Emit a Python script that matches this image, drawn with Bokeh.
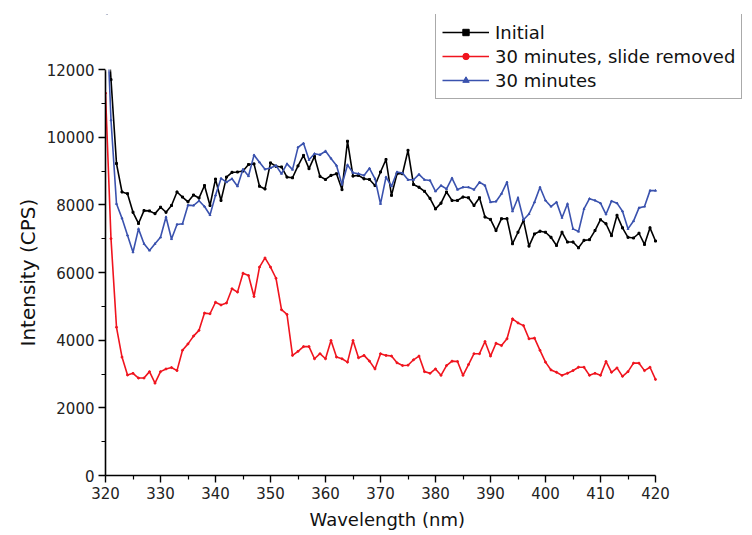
from bokeh.plotting import figure
from bokeh.models import ColumnDataSource, Legend, LegendItem, FixedTicker, BoxAnnotation, Title
from bokeh.embed import file_html
from bokeh.resources import INLINE

wavelength = [320, 321, 322, 323, 324, 325, 326, 327, 328, 329,
              330, 331, 332, 333, 334, 335, 336, 337, 338, 339,
              340, 341, 342, 343, 344, 345, 346, 347, 348, 349,
              350, 351, 352, 353, 354, 355, 356, 357, 358, 359,
              360, 361, 362, 363, 364, 365, 366, 367, 368, 369,
              370, 371, 372, 373, 374, 375, 376, 377, 378, 379,
              380, 381, 382, 383, 384, 385, 386, 387, 388, 389,
              390, 391, 392, 393, 394, 395, 396, 397, 398, 399,
              400, 401, 402, 403, 404, 405, 406, 407, 408, 409,
              410, 411, 412, 413, 414, 415, 416, 417, 418, 419, 420]

initial = [14500, 11700, 9220, 8380, 8330, 7780, 7450, 7830, 7820, 7740,
           7930, 7780, 7980, 8380, 8230, 8090, 8290, 8200, 8570, 7980,
           8760, 8130, 8820, 8960, 8970, 9000, 9190, 9210, 8550, 8470,
           9240, 9140, 9120, 8820, 8800, 9150, 9460, 9070, 9430, 8840,
           8750, 8870, 8920, 8450, 9880, 8850, 8870, 8770, 8750, 8570,
           8970, 9340, 8280, 8920, 8920, 9610, 8600, 8520, 8400, 8190,
           7880, 8050, 8380, 8130, 8130, 8230, 8210, 7980, 8210, 7640,
           7570, 7240, 7590, 7590, 6850, 7190, 7540, 6780, 7140, 7220,
           7190, 7040, 6800, 7190, 6900, 6900, 6730, 6950, 6970, 7240,
           7560, 7440, 7090, 7690, 7320, 7040, 7020, 7160, 6830, 7320, 6930]

slide_removed = [11300, 7000, 4380, 3500, 2970, 3020, 2880, 2880, 3070, 2730,
                 3070, 3150, 3190, 3100, 3700, 3890, 4120, 4290, 4800, 4780,
                 5120, 5040, 5100, 5520, 5420, 5980, 5910, 5290, 6160, 6430,
                 6160, 5830, 4900, 4760, 3550, 3670, 3810, 3810, 3450, 3600,
                 3450, 3990, 3500, 3450, 3350, 3990, 3480, 3550, 3380, 3150,
                 3600, 3550, 3530, 3330, 3250, 3260, 3420, 3530, 3070, 3020,
                 3150, 2960, 3250, 3380, 3370, 2960, 3280, 3600, 3600, 3960,
                 3530, 3910, 3840, 4040, 4630, 4510, 4430, 4040, 4060, 3700,
                 3350, 3120, 3050, 2960, 3020, 3100, 3200, 3200, 2960, 3020,
                 2960, 3370, 3050, 3180, 2930, 3070, 3320, 3320, 3100, 3200, 2840]

thirty_min = [14500, 10500, 8030, 7600, 7100, 6600, 7290, 6850, 6650, 6850,
              7040, 7640, 6990, 7420, 7440, 7990, 7980, 8120, 7950, 7700,
              8280, 8780, 8670, 8770, 8550, 9050, 8850, 9470, 9260, 9050,
              9090, 9160, 8920, 9210, 9040, 9700, 9820, 9330, 9510, 9480,
              9590, 9370, 9160, 8600, 9180, 8950, 8920, 8870, 9080, 8770,
              8030, 8820, 8550, 8970, 8940, 8740, 8740, 8900, 8740, 8720,
              8400, 8570, 8470, 8790, 8450, 8520, 8520, 8450, 8670, 8570,
              8080, 8100, 8330, 8670, 7810, 8210, 7560, 7730, 8080, 8520,
              8130, 7950, 8080, 7620, 8030, 7290, 7210, 7880, 8180, 8130,
              8050, 7720, 8110, 8050, 7810, 7290, 7520, 7910, 7950, 8420, 8420]

series_names = ["Initial", "30 minutes, slide removed", "30 minutes"]
x_ticks = [320, 330, 340, 350, 360, 370, 380, 390, 400, 410, 420]
x_minor = [325, 335, 345, 355, 365, 375, 385, 395, 405, 415]
y_ticks = [0, 2000, 4000, 6000, 8000, 10000, 12000]
y_minor = [1000, 3000, 5000, 7000, 9000, 11000]
x_axis_min, x_axis_max = 320, 420
y_axis_max = 12000

src = ColumnDataSource(dict(w=wavelength, a=initial, b=slide_removed, c=thirty_min))

# The frame spans up to the legend top and to the right page edge, so the
# legend (which overhangs the axes in the original) is not clipped.
# The axes themselves stop at 420 nm and 12000 CPS.
frame_top = y_axis_max * 461 / 406
frame_right = x_axis_min + (x_axis_max - x_axis_min) * 647 / 550
p = figure(width=752, height=535, output_backend="svg", toolbar_location=None,
           x_range=(x_axis_min, frame_right), y_range=(0, frame_top),
           min_border_left=105, min_border_right=0, min_border_top=14, min_border_bottom=60)
p.outline_line_color = None
p.xgrid.visible = False
p.ygrid.visible = False
p.background_fill_color = "white"
p.border_fill_color = "white"

styles = [("a", "black", "square"), ("b", "#f0141e", "circle"), ("c", "#3a52ae", "triangle")]
items = []
for (col, color, marker), name in zip(styles, series_names):
    r_line = p.line("w", col, source=src, line_color=color, line_width=1.6)
    r_mark = p.scatter("w", col, source=src, marker=marker, size=2,
                       line_color=color, fill_color=color)
    items.append(LegendItem(label=name, renderers=[r_line, r_mark]))

# mask everything above the axis maximum (the original plot clips there)
mask = BoxAnnotation(bottom=y_axis_max, top=frame_top * 1.2,
                     left=x_axis_min - 20, right=frame_right + 20,
                     fill_color="white", fill_alpha=1.0,
                     line_color="white", line_width=4, level="overlay")
p.add_layout(mask)

for ax in (p.xaxis[0], p.yaxis[0]):
    ax.axis_line_width = 1.6
    ax.axis_line_color = "black"
    ax.major_tick_line_color = "black"
    ax.minor_tick_line_color = "black"
    ax.major_tick_line_width = 1.4
    ax.minor_tick_line_width = 1.2
    ax.major_tick_in = 0
    ax.major_tick_out = 7
    ax.minor_tick_in = 0
    ax.minor_tick_out = 4
    ax.major_label_text_font = "DejaVu Sans"
    ax.major_label_text_font_size = "15px"
    ax.major_label_text_color = "#222222"
    ax.major_label_standoff = 4

p.xaxis[0].ticker = FixedTicker(ticks=x_ticks, minor_ticks=x_minor)
p.yaxis[0].ticker = FixedTicker(ticks=y_ticks, minor_ticks=y_minor)
p.xaxis[0].bounds = (x_axis_min, x_axis_max)
p.yaxis[0].bounds = (0, y_axis_max)

# axis titles, centred on the drawn axes (not on the enlarged frame)
xtitle = Title(text="Wavelength (nm)", align="left", offset=204, standoff=10,
               text_font="DejaVu Sans", text_font_size="18px",
               text_font_style="normal", text_color="#111111")
p.add_layout(xtitle, "below")
ytitle = Title(text="Intensity (CPS)", align="left", offset=129, standoff=8,
               text_font="DejaVu Sans", text_font_size="20px",
               text_font_style="normal", text_color="#111111")
p.add_layout(ytitle, "left")

legend = Legend(items=items, location=(330, 376), orientation="vertical",
                label_text_font="DejaVu Sans", label_text_font_size="18px",
                label_text_color="#111111",
                label_height=24, glyph_height=16, glyph_width=47,
                label_standoff=6, spacing=0, padding=6, margin=0,
                border_line_color="#555555", border_line_width=1.5,
                background_fill_color="white", background_fill_alpha=1.0,
                level="overlay")
p.add_layout(legend, "center")

open("out.html", "w").write(file_html(p, INLINE))
